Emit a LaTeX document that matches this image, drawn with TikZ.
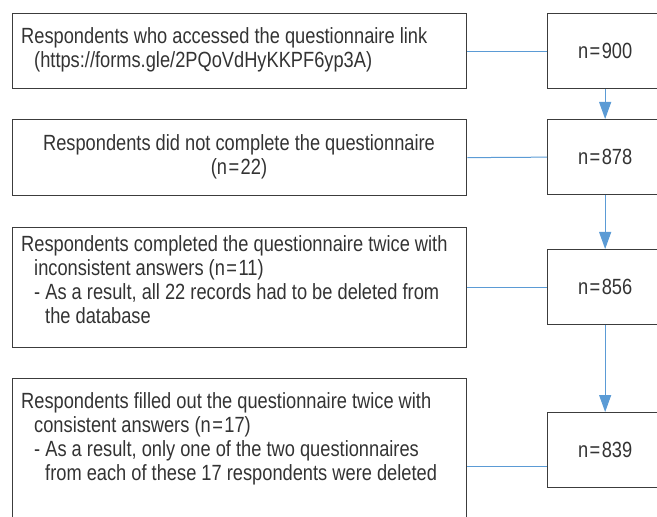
\documentclass[tikz,border=0pt]{standalone}
\usepackage{fontspec}
\setmainfont{Liberation Sans}[FakeStretch=0.83]
\usetikzlibrary{arrows.meta}
\definecolor{boxgray}{HTML}{3C3C3C}
\definecolor{txtgray}{HTML}{333333}
\definecolor{linkblue}{HTML}{5B9BD5}
\newcommand{\eqsign}{\kern1.5bp=\kern1.5bp}
\tikzset{
  lbox/.style={draw=boxgray, line width=1.3bp, minimum width=454bp, inner sep=0pt, anchor=north west},
  rbox/.style={draw=boxgray, line width=1.3bp, minimum width=115bp, minimum height=75bp, inner sep=0pt,
    anchor=north west, text=txtgray, font=\fontsize{22bp}{24bp}\selectfont},
  ltext/.style={inner sep=0pt, align=left, text=txtgray, font=\fontsize{22bp}{24bp}\selectfont},
  ctext/.style={inner sep=0pt, align=center, text=txtgray, font=\fontsize{22bp}{24bp}\selectfont},
  link/.style={draw=linkblue, line width=1bp},
  flow/.style={link, -{Triangle[length=17bp,width=12bp]}}
}
\begin{document}
\begin{tikzpicture}[x=1bp, y=-1bp]
  \useasboundingbox (0,0) rectangle (657,517);
  \clip (0,0) rectangle (657,517);
  % left boxes
  \node[lbox, minimum height=75bp]  (b1) at (12,13)  {};
  \node[lbox, minimum height=76bp]  (b2) at (12,119) {};
  \node[lbox, minimum height=120bp] (b3) at (12,227) {};
  \node[lbox, minimum height=176bp] (b4) at (12,378) {};
  % texts
  \node[ltext, anchor=west] (t1) at (21,50)
    {Respondents who accessed the questionnaire link\\
     \hspace*{13bp}(https://forms.gle/2PQoVdHyKKPF6yp3A)};
  \node[ctext] (t2) at (239,157)
    {Respondents did not complete the questionnaire\\ (n\eqsign22)};
  \node[ltext, anchor=west] (t3) at (21,280)
    {Respondents completed the questionnaire twice with\\
     \hspace*{13bp}inconsistent answers (n\eqsign11)\\
     \hspace*{13bp}- As a result, all 22 records had to be deleted from\\
     \hspace*{24bp}the database};
  \node[ltext, anchor=west] (t4) at (21,439)
    {Respondents filled out the questionnaire twice with\\
     \hspace*{13bp}consistent answers (n\eqsign17)\\
     \hspace*{13bp}- As a result, only one of the two questionnaires\\
     \hspace*{24bp}from each of these 17 respondents were deleted};
  % right boxes
  \node[rbox] (r1) at (547,13)  {n\eqsign900};
  \node[rbox] (r2) at (547,119) {n\eqsign878};
  \node[rbox] (r3) at (547,249) {n\eqsign856};
  \node[rbox] (r4) at (547,412) {n\eqsign839};
  % connectors
  \draw[link] (b1.east) -- (r1.west);
  \draw[link] (b2.east) -- (r2.west);
  \draw[link] (b3.east) -- (b3.east -| r3.west);
  \draw[link] (b4.east) -- (b4.east -| r4.west);
  \draw[flow] (r1.south) -- (r2.north);
  \draw[flow] (r2.south) -- (r3.north);
  \draw[flow] (r3.south) -- (r4.north);
\end{tikzpicture}
\end{document}
